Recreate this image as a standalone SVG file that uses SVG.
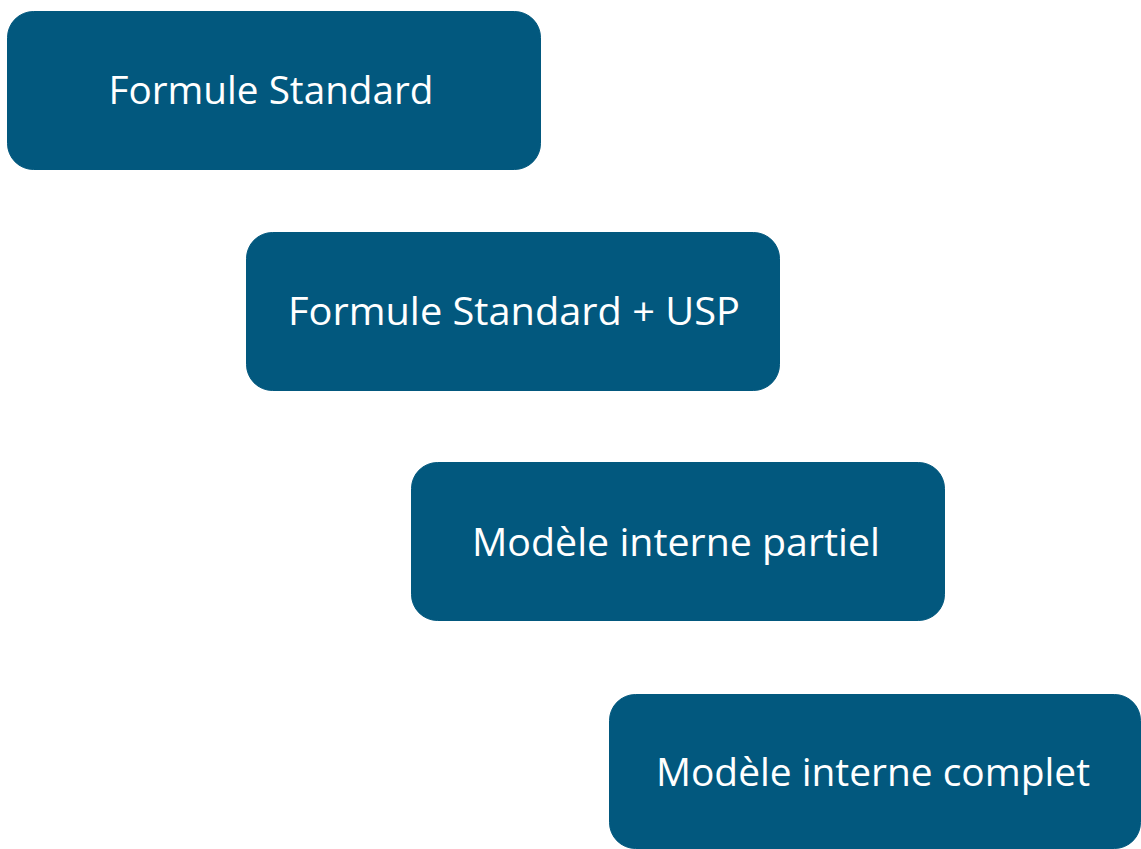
<svg xmlns="http://www.w3.org/2000/svg" width="1141" height="849" viewBox="0 0 1141 849">
  <style>
    .box { fill: #02587E; stroke: #02587E; stroke-width: 1; }
    .label { fill: #ffffff; font-family: "Open Sans", "DejaVu Sans", sans-serif; font-size: 38px; text-anchor: middle; }
  </style>
  <rect width="1141" height="849" fill="#ffffff"/>
  <g id="connectors"></g>
  <g id="node-formule-standard">
    <rect class="box" x="7.5" y="11.5" width="533" height="158" rx="26"/>
    <text class="label" x="271" y="104" textLength="325" lengthAdjust="spacingAndGlyphs">Formule Standard</text>
  </g>
  <g id="node-formule-standard-usp">
    <rect class="box" x="246.5" y="232.5" width="533" height="158" rx="26"/>
    <text class="label" x="514" y="325" textLength="452" lengthAdjust="spacingAndGlyphs">Formule Standard + USP</text>
  </g>
  <g id="node-modele-partiel">
    <rect class="box" x="411.5" y="462.5" width="533" height="158" rx="26"/>
    <text class="label" x="676" y="556" textLength="408" lengthAdjust="spacingAndGlyphs">Modèle interne partiel</text>
  </g>
  <g id="node-modele-complet">
    <rect class="box" x="609.5" y="694.5" width="531" height="154" rx="26"/>
    <text class="label" x="873" y="786" textLength="434" lengthAdjust="spacingAndGlyphs">Modèle interne complet</text>
  </g>
</svg>
